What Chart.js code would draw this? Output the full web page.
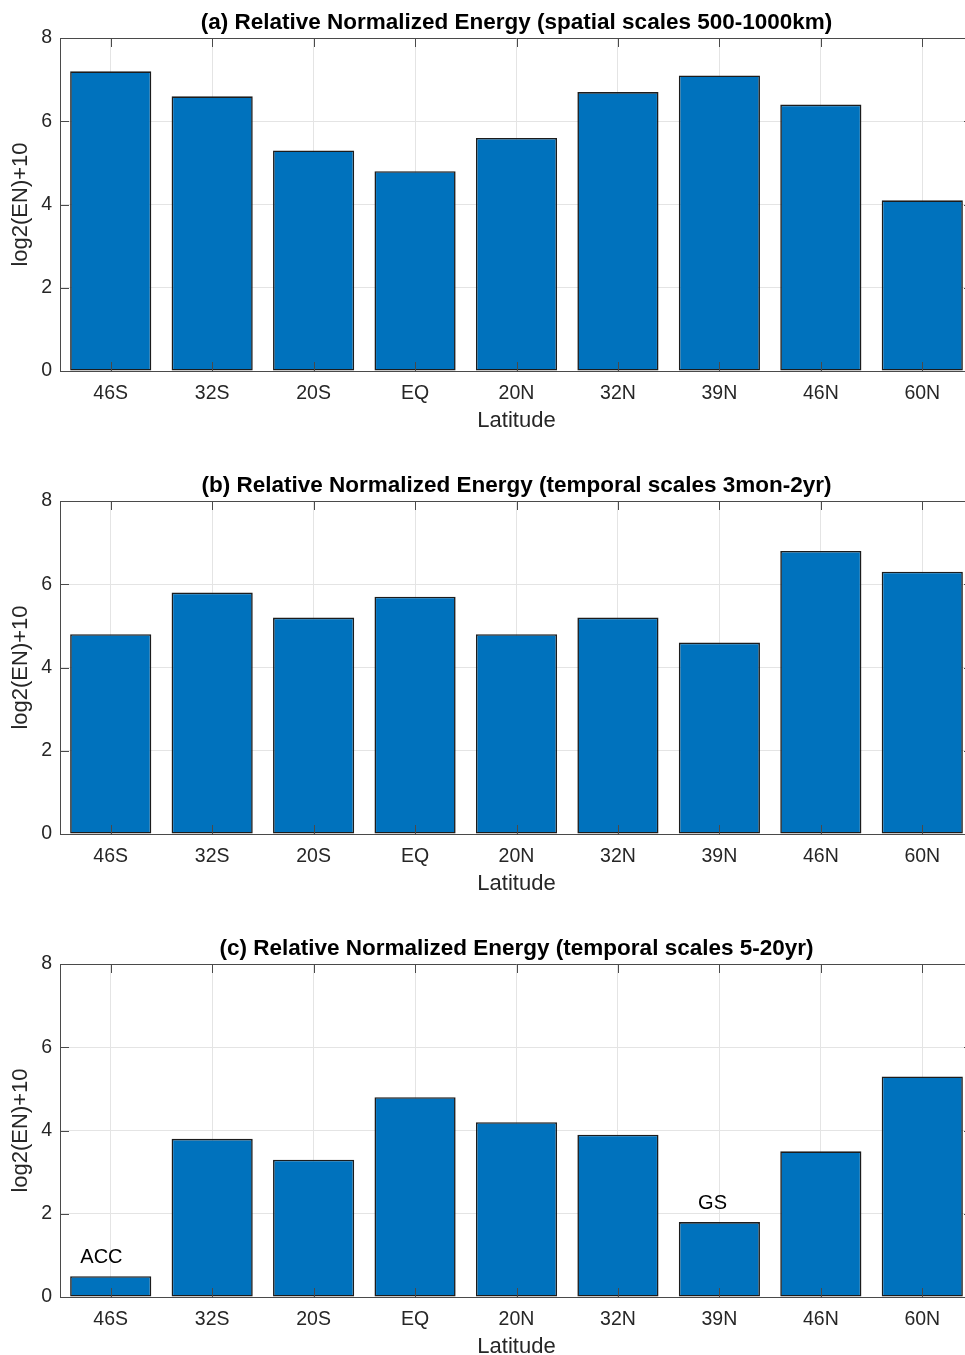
<!DOCTYPE html>
<html>
<head>
<meta charset="utf-8">
<script src="https://cdn.jsdelivr.net/npm/chart.js@4"></script>
<style>
  html, body { margin: 0; padding: 0; background: #fff; overflow: hidden; width: 965px; height: 1355px; }
  canvas { position: absolute; left: 0; }
</style>
</head>
<body>
<canvas id="pa" width="980" height="463" style="top:0px"></canvas>
<canvas id="pb" width="980" height="463" style="top:463px"></canvas>
<canvas id="pc" width="980" height="463" style="top:926px"></canvas>
<script>
// Latitude bands
const latitudes = ['46S', '32S', '20S', 'EQ', '20N', '32N', '39N', '46N', '60N'];

// log2(EN)+10 per band
const spatialEnergy = [7.2, 6.6, 5.3, 4.8, 5.6, 6.7, 7.1, 6.4, 4.1];
const seasonalEnergy = [4.8, 5.8, 5.2, 5.7, 4.8, 5.2, 4.6, 6.8, 6.3];
const decadalEnergy = [0.5, 3.8, 3.3, 4.8, 4.2, 3.9, 1.8, 3.5, 5.3];

const yTicks = [0, 2, 4, 6, 8];

const panelTitles = [
  '(a) Relative Normalized Energy (spatial scales 500-1000km)',
  '(b) Relative Normalized Energy (temporal scales 3mon-2yr)',
  '(c) Relative Normalized Energy (temporal scales 5-20yr)'
];

// Text notes in panel (c): [label, x in category units, y value]
const decadalNotes = [
  ['ACC', -0.30, 0.95],
  ['GS', 5.79, 2.25]
];

const FONT = 'Arial, "Liberation Sans", Helvetica, sans-serif';
const AXIS_COLOR = '#262626';
const BOX_COLOR = '#4a4a4a';
const GRID_COLOR = '#e4e4e4';
const BAR_COLOR = '#0072BD';

// Title, closed box, inward tick marks and notes
const matlabAxes = {
  id: 'matlabAxes',
  afterDraw(chart, args, opts) {
    const ctx = chart.ctx;
    const a = chart.chartArea;
    const xs = chart.scales.x, ys = chart.scales.y;
    ctx.save();
    // box
    ctx.strokeStyle = BOX_COLOR;
    ctx.lineWidth = 1;
    ctx.beginPath();
    ctx.moveTo(a.left, a.top + 0.5);
    ctx.lineTo(a.right, a.top + 0.5);
    ctx.moveTo(a.right - 0.5, a.top);
    ctx.lineTo(a.right - 0.5, a.bottom);
    ctx.stroke();
    // ticks
    const tl = 9;
    ctx.beginPath();
    latitudes.forEach((c, i) => {
      const px = Math.round(xs.getPixelForValue(i)) + 0.5;
      ctx.moveTo(px, a.bottom); ctx.lineTo(px, a.bottom - tl);
      ctx.moveTo(px, a.top); ctx.lineTo(px, a.top + tl);
    });
    yTicks.forEach(v => {
      const py = Math.round(ys.getPixelForValue(v)) + 0.5;
      ctx.moveTo(a.left, py); ctx.lineTo(a.left + tl, py);
      ctx.moveTo(a.right, py); ctx.lineTo(a.right - tl, py);
    });
    ctx.stroke();
    // title
    ctx.fillStyle = '#000';
    ctx.font = 'bold 22.5px ' + FONT;
    ctx.textAlign = 'center';
    ctx.textBaseline = 'middle';
    ctx.fillText(opts.title, (a.left + a.right) / 2, 23);
    // notes
    if (opts.notes) {
      ctx.font = '20px ' + FONT;
      ctx.textAlign = 'left';
      ctx.fillStyle = '#000';
      const step = xs.getPixelForValue(1) - xs.getPixelForValue(0);
      opts.notes.forEach(([t, x, y]) => {
        ctx.fillText(t, xs.getPixelForValue(0) + x * step, ys.getPixelForValue(y));
      });
    }
    ctx.restore();
  }
};

function makePanel(id, values, title, notes) {
  new Chart(document.getElementById(id), {
    type: 'bar',
    data: {
      labels: latitudes,
      datasets: [{
        data: values,
        backgroundColor: BAR_COLOR,
        borderColor: '#1c1c1c',
        borderWidth: 1.6,
        borderSkipped: false,
        categoryPercentage: 1.0,
        barPercentage: 0.8
      }]
    },
    options: {
      responsive: false,
      animation: false,
      devicePixelRatio: 1,
      layout: { padding: { top: 38, right: 7, left: 0, bottom: 0 } },
      plugins: {
        legend: { display: false },
        title: { display: false },
        tooltip: { enabled: false },
        matlabAxes: { title: title, notes: notes }
      },
      scales: {
        x: {
          grid: { color: GRID_COLOR, offset: false, drawTicks: false },
          border: { color: BOX_COLOR, width: 1 },
          ticks: { color: AXIS_COLOR, font: { family: FONT, size: 19.5 }, padding: 11, maxRotation: 0 },
          title: { display: true, text: 'Latitude', color: AXIS_COLOR, font: { family: FONT, size: 22 }, padding: { top: 0, bottom: 29 } },
          afterFit(scale) { scale.height = 92; }
        },
        y: {
          min: 0, max: 8,
          afterBuildTicks(scale) { scale.ticks = yTicks.map(v => ({ value: v })); },
          grid: { color: GRID_COLOR, drawTicks: false },
          border: { color: BOX_COLOR, width: 1 },
          ticks: { color: AXIS_COLOR, font: { family: FONT, size: 19.5 }, padding: 8 },
          title: { display: true, text: 'log2(EN)+10', color: AXIS_COLOR, font: { family: FONT, size: 22 }, padding: { top: 8, bottom: 0 } },
          afterFit(scale) { scale.width = 60; }
        }
      }
    },
    plugins: [matlabAxes]
  });
}

makePanel('pa', spatialEnergy, panelTitles[0]);
makePanel('pb', seasonalEnergy, panelTitles[1]);
makePanel('pc', decadalEnergy, panelTitles[2], decadalNotes);
</script>
</body>
</html>
